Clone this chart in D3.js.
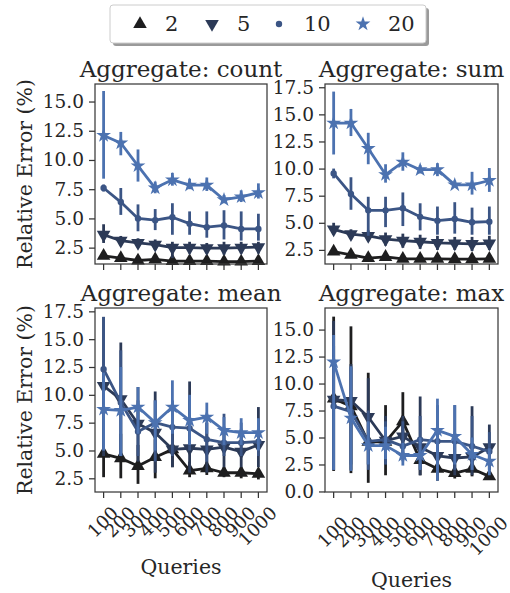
<!DOCTYPE html>
<html>
<head>
<meta charset="utf-8">
<script src="https://cdn.jsdelivr.net/npm/d3@7"></script>
<style>
  body { margin: 0; background: #fff; }
  text { font-family: "DejaVu Serif", serif; fill: #262626; }
</style>
</head>
<body>
<div id="chart"></div>
<script>
// x categories and hue levels
const queries = [100, 200, 300, 400, 500, 600, 700, 800, 900, 1000];
const sampleSizes = ["2", "5", "10", "20"];

// rows follow sampleSizes: 2, 5, 10, 20
const countMean = [
  [1.8, 1.6, 1.4, 1.5, 1.35, 1.35, 1.35, 1.3, 1.3, 1.35],
  [3.6, 3.1, 2.9, 2.75, 2.5, 2.5, 2.45, 2.45, 2.5, 2.55],
  [7.6, 6.4, 5.0, 4.85, 5.1, 4.55, 4.25, 4.4, 4.1, 4.1],
  [12.1, 11.45, 9.5, 7.6, 8.3, 7.85, 7.85, 6.6, 6.85, 7.2]
];
const countLo = [
  [1.6, 1.45, 1.25, 1.3, 1.2, 1.2, 1.2, 1.15, 1.15, 1.2],
  [2.9, 2.7, 2.5, 2.3, 1.6, 2.0, 2.0, 1.9, 2.0, 2.0],
  [7.3, 5.3, 3.9, 4.0, 3.6, 3.6, 3.35, 3.2, 3.1, 3.1],
  [8.4, 10.4, 8.15, 7.15, 7.8, 7.5, 7.35, 6.3, 6.4, 6.7]
];
const countHi = [
  [2.0, 1.8, 1.55, 1.7, 1.5, 1.5, 1.5, 1.45, 1.45, 1.5],
  [4.5, 3.5, 3.3, 3.2, 3.0, 3.0, 2.9, 3.0, 3.0, 3.0],
  [7.9, 7.6, 6.2, 5.8, 6.3, 5.6, 5.6, 5.7, 5.6, 5.4],
  [15.9, 12.4, 10.9, 8.15, 8.9, 8.4, 8.5, 7.0, 7.4, 8.0]
];

const sumMean = [
  [2.35, 2.05, 1.75, 1.85, 1.68, 1.68, 1.68, 1.65, 1.65, 1.68],
  [4.4, 3.95, 3.8, 3.5, 3.35, 3.25, 3.15, 3.1, 3.05, 3.1],
  [9.55, 7.65, 6.15, 6.15, 6.35, 5.55, 5.2, 5.35, 5.05, 5.1],
  [14.2, 14.2, 11.85, 9.45, 10.6, 9.9, 9.9, 8.5, 8.5, 8.9]
];
const sumLo = [
  [2.1, 1.8, 1.55, 1.65, 1.45, 1.45, 1.45, 1.4, 1.4, 1.45],
  [3.9, 3.5, 3.3, 2.9, 2.7, 2.6, 2.5, 2.5, 2.4, 2.5],
  [9.1, 6.2, 3.8, 4.6, 4.7, 4.3, 3.9, 4.0, 3.9, 3.9],
  [11.3, 13.0, 10.4, 8.7, 9.8, 9.55, 9.3, 8.3, 7.6, 7.85]
];
const sumHi = [
  [2.6, 2.3, 1.95, 2.05, 1.9, 1.9, 1.9, 1.9, 1.9, 1.9],
  [5.0, 4.4, 4.3, 4.1, 4.0, 3.9, 3.8, 3.7, 3.7, 3.8],
  [10.0, 9.2, 7.4, 7.4, 7.8, 6.8, 6.5, 6.9, 6.4, 6.5],
  [17.1, 15.5, 13.3, 10.4, 11.5, 10.3, 10.5, 8.9, 9.7, 10.05]
];

const meanMean = [
  [4.7, 4.3, 3.6, 4.4, 5.1, 3.2, 3.4, 3.0, 3.0, 2.9],
  [10.8, 9.6, 7.4, 6.6, 5.1, 5.2, 5.1, 5.3, 4.9, 5.5],
  [12.3, 9.3, 6.7, 7.5, 7.1, 7.0, 6.0, 5.7, 5.7, 5.8],
  [8.7, 8.6, 8.9, 7.5, 8.9, 7.7, 8.0, 6.8, 6.6, 6.6]
];
const meanLo = [
  [2.6, 2.5, 2.0, 2.5, 3.5, 2.6, 2.8, 2.6, 2.5, 2.4],
  [4.5, 4.5, 4.0, 3.0, 3.5, 3.0, 3.0, 3.5, 3.5, 3.5],
  [5.0, 4.5, 4.5, 4.0, 4.5, 5.0, 4.0, 4.5, 4.5, 4.5],
  [5.0, 4.5, 6.5, 5.0, 6.5, 5.5, 6.5, 5.5, 5.5, 5.0]
];
const meanHi = [
  [7.0, 6.5, 5.5, 6.0, 7.0, 4.0, 4.0, 3.5, 3.5, 3.3],
  [17.0, 14.7, 10.7, 10.3, 7.0, 11.2, 7.5, 7.0, 6.5, 8.9],
  [17.0, 14.0, 9.5, 9.5, 9.5, 9.5, 7.5, 8.3, 7.5, 7.0],
  [12.0, 12.5, 10.7, 9.5, 11.3, 10.0, 9.3, 8.0, 7.9, 7.9]
];

const maxMean = [
  [8.6, 7.9, 4.6, 4.6, 6.5, 2.9, 2.1, 1.7, 2.1, 1.4],
  [8.5, 8.4, 6.9, 4.7, 5.1, 4.1, 3.3, 3.1, 3.2, 4.1],
  [7.9, 7.4, 4.65, 4.8, 4.2, 4.8, 4.65, 4.65, 4.2, 3.7],
  [12.0, 6.8, 4.25, 4.25, 3.33, 3.33, 5.66, 5.1, 3.43, 2.8]
];
const maxLo = [
  [1.9, 1.7, 0.8, 1.5, 4.0, 1.5, 1.0, 1.2, 1.4, 1.1],
  [2.0, 2.0, 2.5, 2.5, 3.0, 1.5, 1.5, 1.5, 1.5, 2.0],
  [2.0, 2.5, 2.0, 2.5, 2.8, 2.0, 2.0, 2.0, 2.0, 2.0],
  [2.0, 1.9, 2.5, 3.0, 2.4, 2.0, 1.0, 2.5, 2.0, 1.5]
];
const maxHi = [
  [16.2, 15.3, 11.0, 8.0, 9.2, 5.0, 4.0, 2.5, 3.0, 1.8],
  [15.8, 11.8, 10.5, 7.0, 7.0, 8.8, 6.0, 5.0, 7.9, 6.2],
  [13.5, 11.5, 7.5, 6.5, 6.5, 7.0, 8.0, 8.0, 7.0, 5.5],
  [14.5, 11.6, 6.5, 6.0, 4.5, 5.0, 8.6, 8.0, 5.0, 4.0]
];

const yTicksA = [2.5, 5.0, 7.5, 10.0, 12.5, 15.0];
const yTicksB = [2.5, 5.0, 7.5, 10.0, 12.5, 15.0, 17.5];
const yTicksC = [0.0, 2.5, 5.0, 7.5, 10.0, 12.5, 15.0];

const colors = ["#1e1e1f", "#2c3a57", "#3b5585", "#4c72b0"];
const markers = ["up", "down", "dot", "star"];

const panels = [
  {title: "Aggregate: count", mean: countMean, lo: countLo, hi: countHi, dom: [1.1, 16.5], ticks: yTicksA,
   x0: 95, x1: 267, y0: 84, y1: 264, ylab: true, xlab: false},
  {title: "Aggregate: sum", mean: sumMean, lo: sumLo, hi: sumHi, dom: [1.2, 17.8], ticks: yTicksB,
   x0: 325, x1: 498, y0: 84, y1: 264, ylab: false, xlab: false},
  {title: "Aggregate: mean", mean: meanMean, lo: meanLo, hi: meanHi, dom: [1.27, 17.8], ticks: yTicksB,
   x0: 95, x1: 267, y0: 308, y1: 492, ylab: true, xlab: true, labTop: 504, qY: 567},
  {title: "Aggregate: max", mean: maxMean, lo: maxLo, hi: maxHi, dom: [-0.05, 17.0], ticks: yTicksC,
   x0: 325, x1: 498, y0: 308, y1: 492, ylab: false, xlab: true, labTop: 514, qY: 580}
];

const W = 510, H = 593;
const svg = d3.select("#chart").append("svg")
  .attr("width", W).attr("height", H);

function markerPath(kind, s) {
  if (kind === "dot") return d3.symbol(d3.symbolCircle, s * 0.4)();
  if (kind === "star") return d3.symbol(d3.symbolStar, s * 0.85)();
  return d3.symbol(d3.symbolTriangle, s)();
}

panels.forEach(p => {
  const x = d3.scaleBand().domain(queries).range([p.x0, p.x1]);
  const y = d3.scaleLinear().domain(p.dom).range([p.y1, p.y0]);
  const cx = q => x(q) + x.bandwidth() / 2;
  const g = svg.append("g");

  // y axis
  const ya = g.append("g")
    .attr("transform", `translate(${p.x0},0)`)
    .call(d3.axisLeft(y).tickValues(p.ticks).tickFormat(d3.format(".1f")).tickSize(6).tickPadding(5));
  ya.select(".domain").remove();
  ya.selectAll("line").attr("stroke", "#333").attr("stroke-width", 1.25);
  ya.selectAll("text").attr("font-size", "18.5px").attr("font-family", "DejaVu Serif").attr("fill", "#262626");

  // x axis ticks
  const xa = g.append("g")
    .attr("transform", `translate(0,${p.y1})`)
    .call(d3.axisBottom(x).tickSize(6).tickFormat(""));
  xa.select(".domain").remove();
  xa.selectAll("line").attr("stroke", "#333").attr("stroke-width", 1.25);

  if (p.xlab) {
    queries.forEach(q => {
      const t = g.append("text")
        .attr("font-size", "18px")
        .attr("text-anchor", "middle")
        .attr("dominant-baseline", "central")
        .text(q);
      const w = t.node().getComputedTextLength();
      const hb = (w + 16) * Math.SQRT1_2;
      const cy = p.labTop + hb / 2;
      t.attr("transform", `translate(${cx(q) - 1},${cy}) rotate(-45)`);
    });
    g.append("text")
      .attr("x", (p.x0 + p.x1) / 2).attr("y", p.qY)
      .attr("text-anchor", "middle").attr("dominant-baseline", "central")
      .attr("font-size", "20.5px")
      .text("Queries");
  }

  if (p.ylab) {
    g.append("text")
      .attr("transform", `translate(25,${(p.y0 + p.y1) / 2}) rotate(-90)`)
      .attr("text-anchor", "middle").attr("dominant-baseline", "central")
      .attr("font-size", "20.5px")
      .text("Relative Error (%)");
  }

  g.append("text")
    .attr("x", (p.x0 + p.x1) / 2).attr("y", p.y0 - 7)
    .attr("text-anchor", "middle")
    .attr("font-size", "23px")
    .text(p.title);

  // series
  sampleSizes.forEach((s, i) => {
    const c = colors[i];
    const sg = g.append("g");
    sg.selectAll("line.err")
      .data(queries)
      .join("line")
      .attr("class", "err")
      .attr("x1", q => cx(q)).attr("x2", q => cx(q))
      .attr("y1", (q, j) => y(p.lo[i][j])).attr("y2", (q, j) => y(p.hi[i][j]))
      .attr("stroke", c).attr("stroke-width", 2.8);
    sg.append("path")
      .datum(queries)
      .attr("fill", "none").attr("stroke", c).attr("stroke-width", 2.8)
      .attr("stroke-linejoin", "round")
      .attr("d", d3.line().x(q => cx(q)).y((q, j) => y(p.mean[i][j])));
    sg.selectAll("path.mk")
      .data(queries)
      .join("path")
      .attr("class", "mk")
      .attr("d", markerPath(markers[i], 80))
      .attr("fill", c)
      .attr("transform", (q, j) => `translate(${cx(q)},${y(p.mean[i][j])})` + (markers[i] === "down" ? " rotate(180)" : ""));
  });

  // frame
  g.append("rect")
    .attr("x", p.x0).attr("y", p.y0)
    .attr("width", p.x1 - p.x0).attr("height", p.y1 - p.y0)
    .attr("fill", "none").attr("stroke", "#3a3a3a").attr("stroke-width", 1.25);
});

// legend
const lg = svg.append("g");
lg.append("rect")
  .attr("x", 113).attr("y", 8).attr("width", 316).attr("height", 38).attr("rx", 3)
  .attr("fill", "#9a9a9a");
lg.append("rect")
  .attr("x", 110).attr("y", 5).attr("width", 316).attr("height", 38).attr("rx", 3)
  .attr("fill", "#fff").attr("stroke", "#cccccc").attr("stroke-width", 1);
const legX = [140, 212, 279, 363];
sampleSizes.forEach((s, i) => {
  lg.append("path")
    .attr("d", markerPath(markers[i], 80))
    .attr("fill", colors[i])
    .attr("transform", `translate(${legX[i]},24)` + (markers[i] === "down" ? " rotate(180)" : ""));
  lg.append("text")
    .attr("x", legX[i] + 25).attr("y", 24)
    .attr("dominant-baseline", "central")
    .attr("font-size", "21px")
    .text(s);
});
</script>
</body>
</html>
